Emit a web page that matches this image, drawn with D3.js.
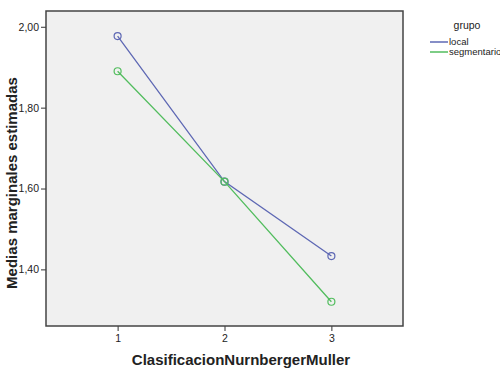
<!DOCTYPE html>
<html>
<head>
<meta charset="utf-8">
<script src="https://cdn.jsdelivr.net/npm/d3@7"></script>
<style>
  body { margin: 0; background: #fff; }
  text { font-family: "Liberation Sans", Arial, sans-serif; }
</style>
</head>
<body>
<svg id="chart" width="500" height="369"></svg>
<script>
let categories = [1, 2, 3];
let local_vals = [1.977, 1.617, 1.433];
let segm_vals = [1.890, 1.617, 1.320];
let y_ticks = [1.4, 1.6, 1.8, 2.0];
let series_names = ["local", "segmentario"];
let series_colors = ["#5e68b4", "#52bd5e"];

function plot_chart() {
    let margin = { top: 11, right: 97, bottom: 43, left: 46 };
    let svg = d3.select("#chart");
    let width = +svg.attr("width") - margin.left - margin.right;
    let height = +svg.attr("height") - margin.top - margin.bottom;
    let g = svg.append("g").attr("transform", `translate(${margin.left}, ${margin.top})`);

    let x = d3.scaleLinear().domain([0.33, 3.67]).range([0, width]);
    let y = d3.scaleLinear().domain([1.26, 2.039]).range([height, 0]);
    let fmt = d => d3.format(".2f")(d).replace(".", ",");

    g.append("rect")
        .attr("width", width)
        .attr("height", height)
        .attr("fill", "#f0f0f0");

    let yAxis = g.append("g")
        .call(d3.axisLeft(y).tickValues(y_ticks).tickFormat(fmt).tickSize(5).tickPadding(2));
    yAxis.select(".domain").remove();
    yAxis.selectAll("text").attr("font-size", "10.5px").attr("fill", "#222");
    yAxis.selectAll("line").attr("stroke", "#333");

    let xAxis = g.append("g")
        .attr("transform", `translate(0, ${height})`)
        .call(d3.axisBottom(x).tickValues(categories).tickFormat(d3.format("d")).tickSize(5).tickPadding(4));
    xAxis.select(".domain").remove();
    xAxis.selectAll("text").attr("font-size", "10.5px").attr("fill", "#222");
    xAxis.selectAll("line").attr("stroke", "#333");

    g.append("rect")
        .attr("width", width)
        .attr("height", height)
        .attr("fill", "none")
        .attr("stroke", "#444")
        .attr("stroke-width", 1.5);

    let all_series = [local_vals, segm_vals];
    let line = d3.line()
        .x((d, i) => x(categories[i]))
        .y(d => y(d));

    all_series.forEach((vals, s) => {
        g.append("path")
            .datum(vals)
            .attr("fill", "none")
            .attr("stroke", series_colors[s])
            .attr("stroke-width", 1.3)
            .attr("d", line);
        g.selectAll(".dot" + s)
            .data(vals)
            .enter().append("circle")
                .attr("cx", (d, i) => x(categories[i]))
                .attr("cy", d => y(d))
                .attr("r", 3.5)
                .attr("fill", "none")
                .attr("stroke", series_colors[s])
                .attr("stroke-width", 1.2);
    });

    svg.append("text")
        .attr("x", 241)
        .attr("y", 365)
        .attr("text-anchor", "middle")
        .attr("font-size", "15px")
        .attr("font-weight", "bold")
        .attr("fill", "#222")
        .text("ClasificacionNurnbergerMuller");

    svg.append("text")
        .attr("transform", "rotate(-90)")
        .attr("x", -183)
        .attr("y", 17)
        .attr("text-anchor", "middle")
        .attr("font-size", "15px")
        .attr("font-weight", "bold")
        .attr("fill", "#222")
        .text("Medias marginales estimadas");

    // legend
    let legend = svg.append("g").attr("transform", "translate(430, 0)");
    legend.append("text")
        .attr("x", 37)
        .attr("y", 29)
        .attr("text-anchor", "middle")
        .attr("font-size", "10.5px")
        .attr("fill", "#222")
        .text("grupo");
    series_names.forEach((name, i) => {
        let yy = 42 + i * 10;
        legend.append("line")
            .attr("x1", 0).attr("x2", 18)
            .attr("y1", yy).attr("y2", yy)
            .attr("stroke", series_colors[i])
            .attr("stroke-width", 1.5);
        legend.append("text")
            .attr("x", 19)
            .attr("y", yy + 3)
            .attr("font-size", "9.5px")
            .attr("fill", "#222")
            .text(name);
    });
}

document.addEventListener('DOMContentLoaded', () => {
    plot_chart();
});
</script>
</body>
</html>
